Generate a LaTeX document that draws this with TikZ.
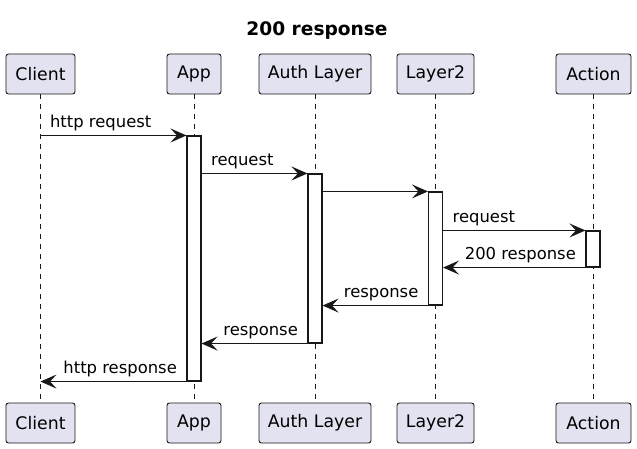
\documentclass[tikz,border=0pt]{standalone}
\usepackage{fontspec}
\setmainfont{DejaVu Sans}
\usetikzlibrary{arrows.meta}
\definecolor{pfill}{HTML}{E2E2F0}
\definecolor{ink}{HTML}{181818}
\begin{document}
\begin{tikzpicture}[x=1pt,y=-1pt,
  part/.style={draw=ink,fill=pfill,line width=0.9pt,rounded corners=2.5pt,minimum height=40pt,inner sep=0pt,font=\fontsize{17.3}{20}\selectfont},
  life/.style={draw=ink,line width=0.9pt,dash pattern=on 5pt off 5pt},
  act/.style={draw=ink,fill=white,line width=1.1pt,minimum width=14pt,inner sep=0pt},
  msg/.style={draw=ink,line width=1.2pt,-{Stealth[length=16pt,width=14pt,inset=6.5pt]}},
  lblr/.style={pos=0,anchor=south west,inner sep=0pt,xshift=9pt,yshift=4pt,font=\fontsize{16.4}{19}\selectfont},
  lbll/.style={pos=0,anchor=south east,inner sep=0pt,xshift=-9pt,yshift=4pt,font=\fontsize{16.4}{19}\selectfont}]
\useasboundingbox[fill=white] (0,0) rectangle (637,449);
\node[font=\bfseries\fontsize{18.6}{21}\selectfont] (title) at (317,31) {200 response};
% top participants
\node[part,minimum width=69pt] (ct) at (40.5,74) {Client};
\node[part,minimum width=54pt] (at) at (194,74) {App};
\node[part,minimum width=112pt] (ut) at (315,74) {Auth Layer};
\node[part,minimum width=77pt] (lt) at (435.5,74) {Layer2};
\node[part,minimum width=75pt] (xt) at (593.5,74) {Action};
% bottom participants
\node[part,minimum width=69pt] (cb) at (40.5,423) {Client};
\node[part,minimum width=54pt] (ab) at (194,423) {App};
\node[part,minimum width=112pt] (ub) at (315,423) {Auth Layer};
\node[part,minimum width=77pt] (lb) at (435.5,423) {Layer2};
\node[part,minimum width=75pt] (xb) at (593.5,423) {Action};
% lifelines
\draw[life] (ct.south) -- (cb.north);
\draw[life] (at.south) -- (ab.north);
\draw[life] (ut.south) -- (ub.north);
\draw[life] (lt.south) -- (lb.north);
\draw[life] (xt.south) -- (xb.north);
% activations
\node[act,minimum height=245pt] (aa) at (194,258.5) {};
\node[act,minimum height=169pt] (ua) at (315,258.5) {};
\node[act,minimum height=113pt] (la) at (435.5,248.5) {};
\node[act,minimum height=36pt] (xa) at (593,249) {};
\coordinate (c1) at (ct.south |- aa.north);
\coordinate (c2) at (ct.south |- aa.south);
% messages
\draw[msg] (c1) -- node[lblr] {http request} (aa.north west);
\draw[msg] (aa.east |- ua.north) -- node[lblr] {request} (ua.north west);
\draw[msg] (ua.east |- la.north) -- (la.north west);
\draw[msg] (la.east |- xa.north) -- node[lblr] {request} (xa.north west);
\draw[msg] (xa.south west) -- node[lbll] {200 response} (la.east |- xa.south);
\draw[msg] (la.south west) -- node[lbll] {response} (ua.east |- la.south);
\draw[msg] (ua.south west) -- node[lbll] {response} (aa.east |- ua.south);
\draw[msg] (aa.south west) -- node[lbll] {http response} (c2);
\end{tikzpicture}
\end{document}
